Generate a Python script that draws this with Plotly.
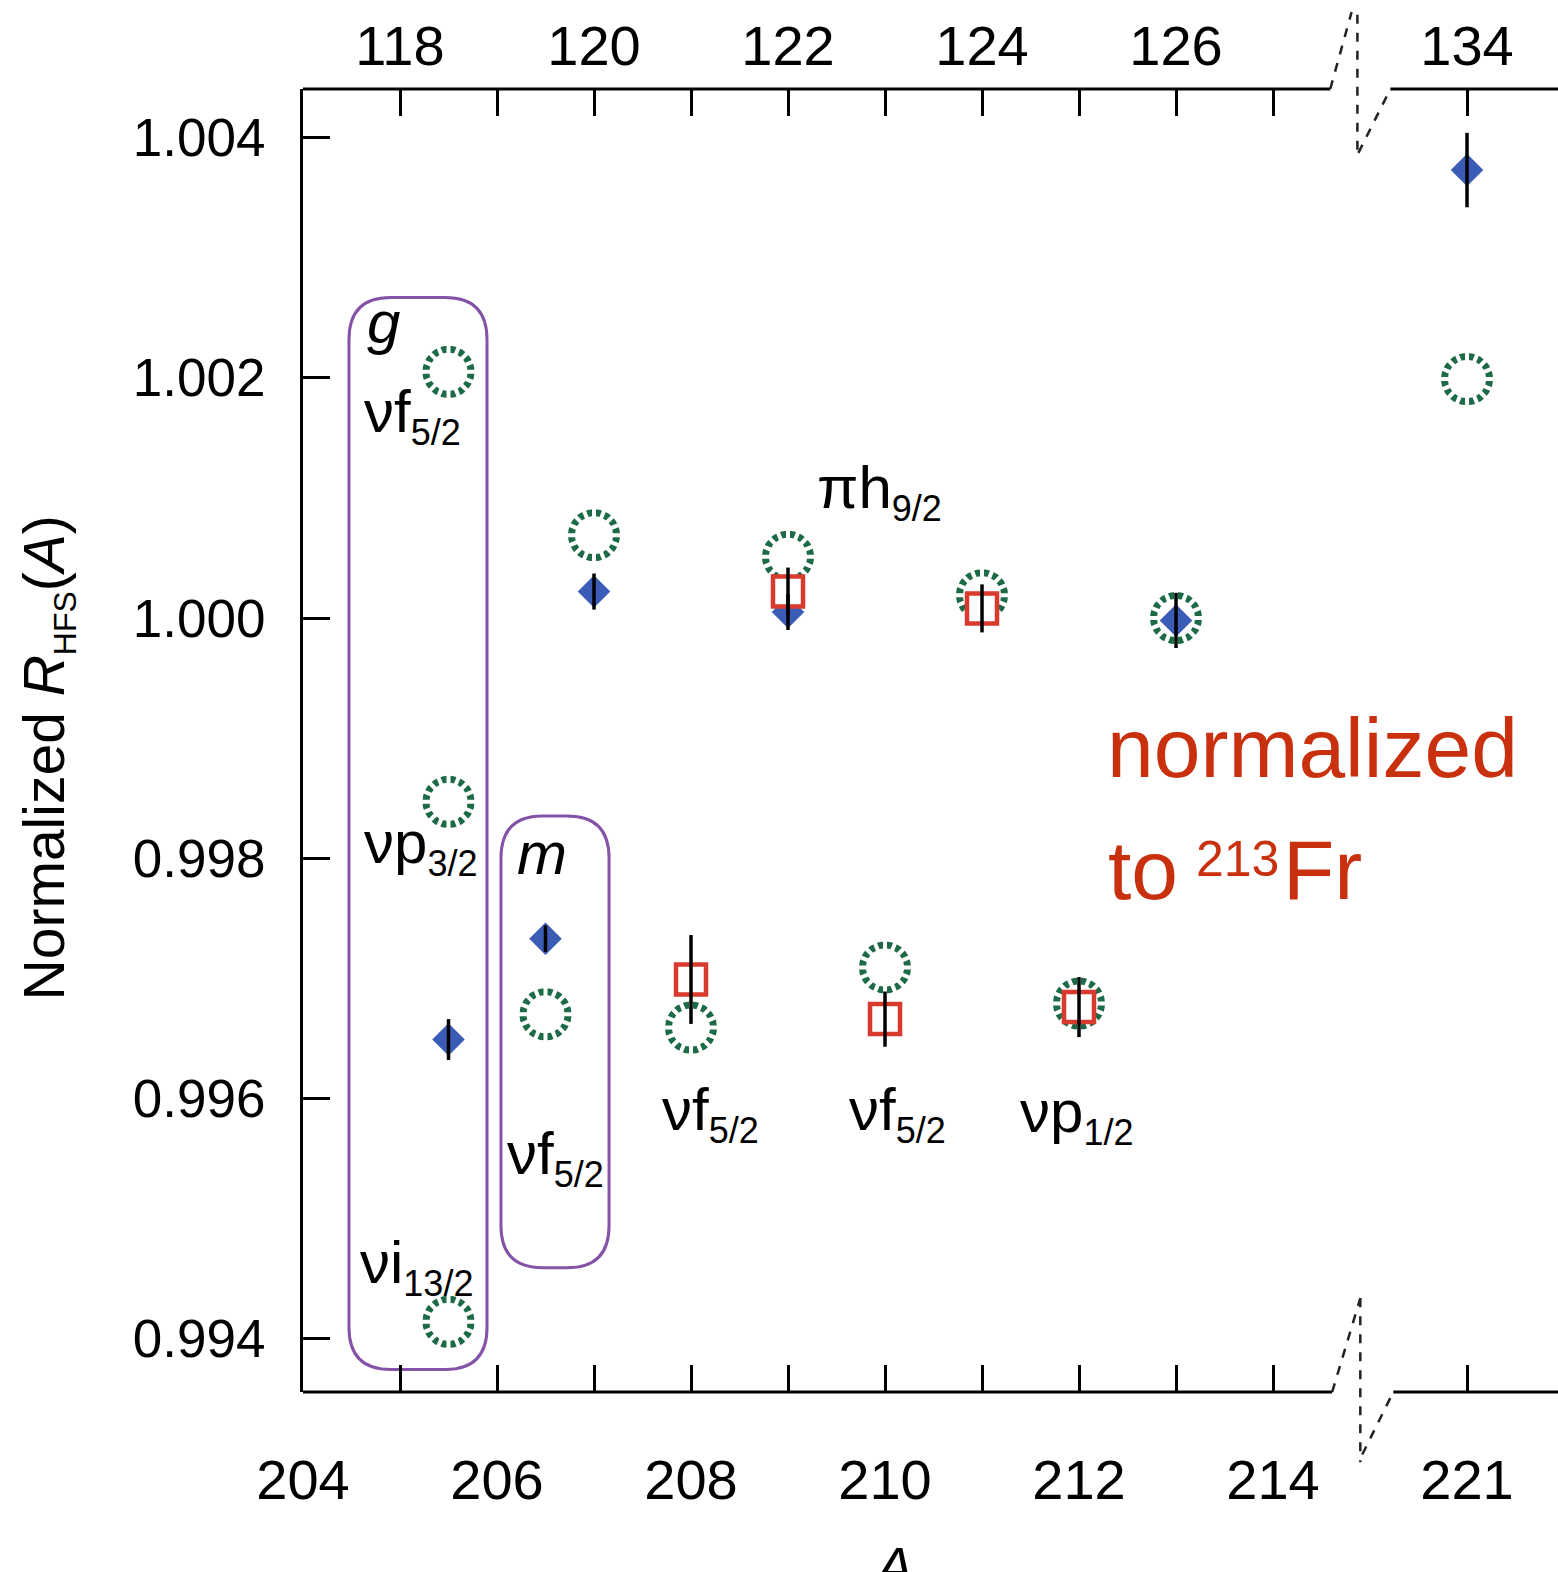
import plotly.graph_objects as go

# ---------------------------------------------------------------- data
# Positions along the broken mass axis (A = 221 sits just past the break at 216).
# The 206 ground (g) and isomer (m) states are drawn either side of 206.
A_exp = [205.5, 206.5, 207, 209, 213, 216]
R_exp = [0.99649, 0.99733, 1.00022, 1.00005, 0.99998, 1.00373]
R_exp_err = [0.00017, 0.00011, 0.00015, 0.00015, 0.00023, 0.00031]

A_calc = [205.5, 205.5, 205.5, 206.5, 207, 208, 209, 210, 211, 212, 213, 216]
R_calc = [1.00205, 0.99847, 0.99414, 0.99670, 1.00069, 0.99659,
          1.00051, 0.99709, 1.00019, 0.99679, 1.00000, 1.00199]

A_sq = [208, 209, 210, 211, 212]
R_sq = [0.99699, 1.00022, 0.99666, 1.00008, 0.99676]
R_sq_err = [0.00037, 0.00020, 0.00023, 0.00020, 0.00025]

bottom_tickvals = [204, 205, 206, 207, 208, 209, 210, 211, 212, 213, 214, 216]
bottom_ticktext = ["204", "", "206", "", "208", "", "210", "", "212", "", "214", "221"]
top_tickvals = [205, 206, 207, 208, 209, 210, 211, 212, 213, 214, 216]
top_ticktext = ["118", "", "120", "", "122", "", "124", "", "126", "", "134"]
y_tickvals = [0.994, 0.996, 0.998, 1.000, 1.002, 1.004]
y_ticktext = ["0.994", "0.996", "0.998", "1.000", "1.002", "1.004"]

X_RANGE = [204, 216.938]
Y_RANGE = [0.993555, 1.004405]

FONT = "Liberation Sans, Arial, Helvetica, sans-serif"
BLUE = "#3b5cb6"
GREEN = "#1d6a47"
RED = "#d93a2e"
PURPLE = "#8452a6"
NOTE_RED = "#c9300e"

fig = go.Figure()

# dashed-looking rings: a solid ring cut by two rotated white asterisks
fig.add_trace(go.Scatter(
    x=A_calc, y=R_calc, mode="markers", showlegend=False, hoverinfo="skip",
    marker=dict(symbol="circle-open", size=45, color=GREEN,
                line=dict(color=GREEN, width=7))))
for ang in (0, 22.5):
    fig.add_trace(go.Scatter(
        x=A_calc, y=R_calc, mode="markers", showlegend=False, hoverinfo="skip",
        marker=dict(symbol="asterisk-open", size=60, angle=ang, color="white",
                    line=dict(color="white", width=4))))

# measured ratios, blue diamonds
fig.add_trace(go.Scatter(
    x=A_exp, y=R_exp, mode="markers", showlegend=False,
    marker=dict(symbol="diamond", size=25, color=BLUE, line=dict(width=0))))

# second data set, red squares
fig.add_trace(go.Scatter(
    x=A_sq, y=R_sq, mode="markers", showlegend=False,
    marker=dict(symbol="square", size=30, color="white",
                line=dict(color=RED, width=4.5))))

# black uncertainty bars drawn over the symbols
for xs, ys, es in ((A_sq, R_sq, R_sq_err), (A_exp, R_exp, R_exp_err)):
    fig.add_trace(go.Scatter(
        x=xs, y=ys, mode="markers", showlegend=False, hoverinfo="skip",
        marker=dict(size=1, color="rgba(0,0,0,0)"),
        error_y=dict(type="data", array=es, visible=True, color="black",
                     thickness=3.5, width=0)))

# invisible trace that carries the top (neutron number) axis
fig.add_trace(go.Scatter(x=[X_RANGE[0]], y=[Y_RANGE[0]], xaxis="x2", mode="markers",
                         marker=dict(size=1, color="rgba(0,0,0,0)"),
                         showlegend=False, hoverinfo="skip"))


def rounded_box(x0, x1, y0, y1, rx, ry):
    return (f"M{x0 + rx},{y0} L{x1 - rx},{y0} Q{x1},{y0} {x1},{y0 + ry} "
            f"L{x1},{y1 - ry} Q{x1},{y1} {x1 - rx},{y1} L{x0 + rx},{y1} "
            f"Q{x0},{y1} {x0},{y1 - ry} L{x0},{y0 + ry} Q{x0},{y0} {x0 + rx},{y0} Z")


shapes = []
# grouping boxes for the 206 g and m states
for (x0, x1, y0, y1) in ((204.474, 205.897, 0.993742, 1.002669),
                         (206.041, 207.155, 0.994590, 0.998351)):
    shapes.append(dict(type="path", xref="x", yref="y", layer="below",
                       path=rounded_box(x0, x1, y0, y1, 0.43, 0.00035),
                       line=dict(color=PURPLE, width=3)))

# top and bottom frame lines, interrupted at the axis break
AX = dict(color="black", width=3)
BRK = dict(color="#222222", width=2.5, dash="dash")
for y in (0, 1):
    shapes.append(dict(type="line", xref="x", yref="paper", x0=204, x1=214.59 if y else 214.61,
                       y0=y, y1=y, line=AX))
    shapes.append(dict(type="line", xref="x", yref="paper", x0=215.21 if y else 215.24,
                       x1=X_RANGE[1], y0=y, y1=y, line=AX))
# break marks (top)
shapes += [
    dict(type="line", xref="x", yref="paper", x0=214.59, y0=1.0, x1=214.81, y1=1.059, line=BRK),
    dict(type="line", xref="x", yref="paper", x0=214.87, y0=1.057, x1=214.87, y1=0.949, line=BRK),
    dict(type="line", xref="x", yref="paper", x0=214.88, y0=0.951, x1=215.21, y1=1.0, line=BRK),
]
# break marks (bottom)
shapes += [
    dict(type="line", xref="x", yref="paper", x0=214.61, y0=0.0, x1=214.90, y1=0.072, line=BRK),
    dict(type="line", xref="x", yref="paper", x0=214.90, y0=0.072, x1=214.90, y1=-0.054, line=BRK),
    dict(type="line", xref="x", yref="paper", x0=214.92, y0=-0.048, x1=215.24, y1=0.0, line=BRK),
]

MAIN = 60
SUB = "<sub><span style='font-size:36px'>{}</span></sub>"
labels = [
    ("<i>g</i>", 204.64, 1.00246),
    ("νf" + SUB.format("5/2"), 204.61, 1.00169),
    ("νp" + SUB.format("3/2"), 204.61, 0.99810),
    ("νi" + SUB.format("13/2"), 204.57, 0.99460),
    ("<i>m</i>", 206.19, 0.99804),
    ("νf" + SUB.format("5/2"), 206.08, 0.99551),
    ("νf" + SUB.format("5/2"), 207.68, 0.99587),
    ("νf" + SUB.format("5/2"), 209.61, 0.99587),
    ("νp" + SUB.format("1/2"), 211.37, 0.99586),
    ("πh" + SUB.format("9/2"), 209.28, 1.00105),
]
annotations = [dict(text=t, x=x, y=y, xref="x", yref="y", xanchor="left", yanchor="middle",
                    showarrow=False, font=dict(family=FONT, size=MAIN, color="black"))
               for t, x, y in labels]

note_font = dict(family=FONT, size=84, color=NOTE_RED)
annotations += [
    dict(text="normalized", x=212.27, y=0.99892, xref="x", yref="y", xanchor="left",
         yanchor="middle", showarrow=False, font=note_font),
    dict(text="to", x=212.28, y=0.99790, xref="x", yref="y", xanchor="left",
         yanchor="middle", showarrow=False, font=note_font),
    dict(text="213", x=213.19, y=0.99799, xref="x", yref="y", xanchor="left",
         yanchor="middle", showarrow=False, font=dict(family=FONT, size=50, color=NOTE_RED)),
    dict(text="Fr", x=214.08, y=0.99790, xref="x", yref="y", xanchor="left",
         yanchor="middle", showarrow=False, font=note_font),
    dict(text="Normalized <i>R</i><sub><span style='font-size:32px'>HFS</span></sub>(<i>A</i>)",
         x=-0.204, y=0.487, xref="paper", yref="paper", textangle=-90,
         xanchor="center", yanchor="middle", showarrow=False,
         font=dict(family=FONT, size=57, color="black")),
    dict(text="<i>A</i>", x=210.08, y=-0.108, xref="x", yref="paper",
         xanchor="center", yanchor="top", showarrow=False,
         font=dict(family=FONT, size=56, color="black")),
]

axis_common = dict(showgrid=False, zeroline=False, ticks="inside", ticklen=27,
                   tickwidth=3, tickcolor="black")

fig.update_layout(
    width=1558, height=1572,
    margin=dict(l=303, r=0, t=89, b=180, pad=0),
    paper_bgcolor="white", plot_bgcolor="white",
    showlegend=False,
    xaxis=dict(range=X_RANGE, tickmode="array", tickvals=bottom_tickvals,
               ticktext=bottom_ticktext, showline=False, ticklabelstandoff=50,
               tickfont=dict(family=FONT, size=56, color="black"), **axis_common),
    xaxis2=dict(range=X_RANGE, overlaying="x", side="top", tickmode="array",
                tickvals=top_tickvals, ticktext=top_ticktext, showline=False,
                ticklabelstandoff=12,
                tickfont=dict(family=FONT, size=56, color="black"), **axis_common),
    yaxis=dict(range=Y_RANGE, tickmode="array", tickvals=y_tickvals,
               ticktext=y_ticktext, showline=True, linecolor="black", linewidth=3,
               ticklabelstandoff=24,
               tickfont=dict(family=FONT, size=53, color="black"), **axis_common),
    shapes=shapes,
    annotations=annotations,
)

fig.write_html("out.html")
